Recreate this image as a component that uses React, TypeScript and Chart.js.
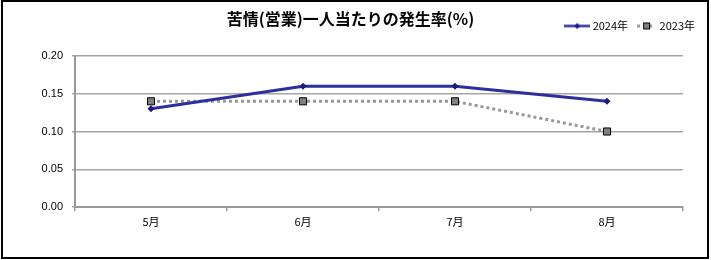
import React, { useEffect, useRef } from 'react';
import { Chart, registerables } from 'chart.js';

Chart.register(...registerables);

const categories = ['5月', '6月', '7月', '8月'];
const seriesLabels = ['2024年', '2023年'];
const values2024 = [0.13, 0.16, 0.16, 0.14];
const values2023 = [0.14, 0.14, 0.14, 0.10];
const yTickValues = [0, 0.05, 0.1, 0.15, 0.2];
const titleText = '苦情(営業)一人当たりの発生率(%)';

const JP = "'Noto Sans CJK JP', 'Liberation Sans', sans-serif";
const NUM = "'Liberation Sans', 'Noto Sans CJK JP', sans-serif";
const NARROW = "'Liberation Sans Narrow', 'Noto Sans CJK JP', sans-serif";

const NAVY = '#2e2e9c';
const NAVY_DARK = '#1a1a80';
const GRAY_LINE = '#999999';
const GRAY_FILL = '#808080';

function makeIcon(kind: 'a' | 'b'): HTMLCanvasElement {
  const c = document.createElement('canvas');
  c.width = 26;
  c.height = 9;
  const ctx = c.getContext('2d')!;
  const cy = 4.5;
  if (kind === 'a') {
    ctx.strokeStyle = NAVY;
    ctx.lineWidth = 2.5;
    ctx.beginPath();
    ctx.moveTo(0, cy);
    ctx.lineTo(26, cy);
    ctx.stroke();
    ctx.fillStyle = NAVY_DARK;
    ctx.beginPath();
    ctx.moveTo(13, cy - 3);
    ctx.lineTo(16, cy);
    ctx.lineTo(13, cy + 3);
    ctx.lineTo(10, cy);
    ctx.closePath();
    ctx.fill();
  } else {
    ctx.strokeStyle = GRAY_LINE;
    ctx.lineWidth = 3;
    ctx.setLineDash([3, 3]);
    ctx.beginPath();
    ctx.moveTo(6, cy);
    ctx.lineTo(24, cy);
    ctx.stroke();
    ctx.setLineDash([]);
    ctx.fillStyle = GRAY_FILL;
    ctx.strokeStyle = '#000';
    ctx.lineWidth = 1;
    ctx.fillRect(12.5, cy - 3, 6, 6);
    ctx.strokeRect(12.5, cy - 3, 6, 6);
  }
  return c;
}

export default function App() {
  const ref = useRef<HTMLCanvasElement | null>(null);

  useEffect(() => {
    if (!ref.current) return;
    const icons = [makeIcon('a'), makeIcon('b')];
    const chart = new Chart(ref.current, {
      type: 'line',
      data: {
        labels: categories,
        datasets: [
          {
            label: seriesLabels[0],
            data: values2024,
            borderColor: NAVY,
            backgroundColor: NAVY_DARK,
            borderWidth: 3,
            pointStyle: 'rectRot',
            pointRadius: 3.5,
            pointBorderWidth: 0,
            pointBackgroundColor: NAVY_DARK,
            tension: 0,
            fill: false,
          },
          {
            label: seriesLabels[1],
            data: values2023,
            borderColor: GRAY_LINE,
            backgroundColor: GRAY_FILL,
            borderWidth: 3,
            borderDash: [3, 3],
            pointStyle: 'rect',
            pointRadius: 5,
            pointBorderWidth: 1,
            pointBorderColor: '#000',
            pointBackgroundColor: GRAY_FILL,
            tension: 0,
            fill: false,
          },
        ],
      },
      options: {
        responsive: false,
        animation: false,
        layout: { padding: { left: 0, right: 10, top: 0, bottom: 0 } },
        plugins: {
          title: {
            display: true,
            text: titleText,
            color: '#000',
            weight: 2000,
            font: { family: JP, size: 16, weight: 'bold' },
            padding: { top: 9.4, bottom: -14.1 },
          },
          legend: {
            display: true,
            position: 'top',
            align: 'end',
            weight: 1000,
            labels: {
              usePointStyle: true,
              pointStyleWidth: 20,
              padding: 6,
              color: '#000',
              font: { family: NARROW, size: 11 },
              generateLabels: (ch: any) =>
                ch.data.datasets.map((ds: any, i: number) => ({
                  text: ds.label,
                  pointStyle: icons[i],
                  fillStyle: 'transparent',
                  strokeStyle: 'transparent',
                  lineWidth: 0,
                  hidden: false,
                  datasetIndex: i,
                  fontColor: '#000',
                })),
            },
          },
          subtitle: {
            display: true,
            text: '',
            position: 'top',
            weight: 500,
            font: { size: 10, lineHeight: 1 },
            padding: { top: 4.5, bottom: 0 },
          },
          tooltip: { enabled: false },
        },
        scales: {
          x: {
            offset: true,
            grid: {
              offset: true,
              drawOnChartArea: false,
              drawTicks: true,
              tickLength: 4,
              color: '#999999',
              lineWidth: 1.5,
            },
            border: { color: '#999999', width: 2 },
            ticks: {
              color: '#000',
              font: { family: JP, size: 11 },
              padding: 4,
              maxRotation: 0,
              autoSkip: false,
            },
            afterFit: (s: any) => {
              s.height = 53;
              s.paddingRight = 28;
            },
          },
          y: {
            min: 0,
            max: 0.2,
            afterBuildTicks: (s: any) => {
              s.ticks = yTickValues.map((v) => ({ value: v }));
            },
            ticks: {
              color: '#000',
              font: { family: NUM, size: 11 },
              padding: 9,
              callback: (v: any) => Number(v).toFixed(2),
            },
            grid: {
              color: '#a6a6a6',
              lineWidth: 1.5,
              drawTicks: true,
              tickLength: 3,
            },
            border: { color: '#999999', width: 2 },
            afterFit: (s: any) => {
              s.width = 75;
            },
          },
        },
      } as any,
    });
    return () => chart.destroy();
  }, []);

  return (
    <div
      style={{
        position: 'fixed',
        left: 0,
        top: 0,
        width: 711,
        height: 260,
        background: '#fff',
      }}
    >
      <canvas
        ref={ref}
        width={711}
        height={260}
        style={{ position: 'absolute', left: 0, top: 0, width: 711, height: 260 }}
      />
      <div
        style={{
          position: 'absolute',
          left: 1,
          top: 0,
          width: 708,
          height: 259,
          border: '2px solid #000',
          boxSizing: 'border-box',
          pointerEvents: 'none',
        }}
      />
    </div>
  );
}
